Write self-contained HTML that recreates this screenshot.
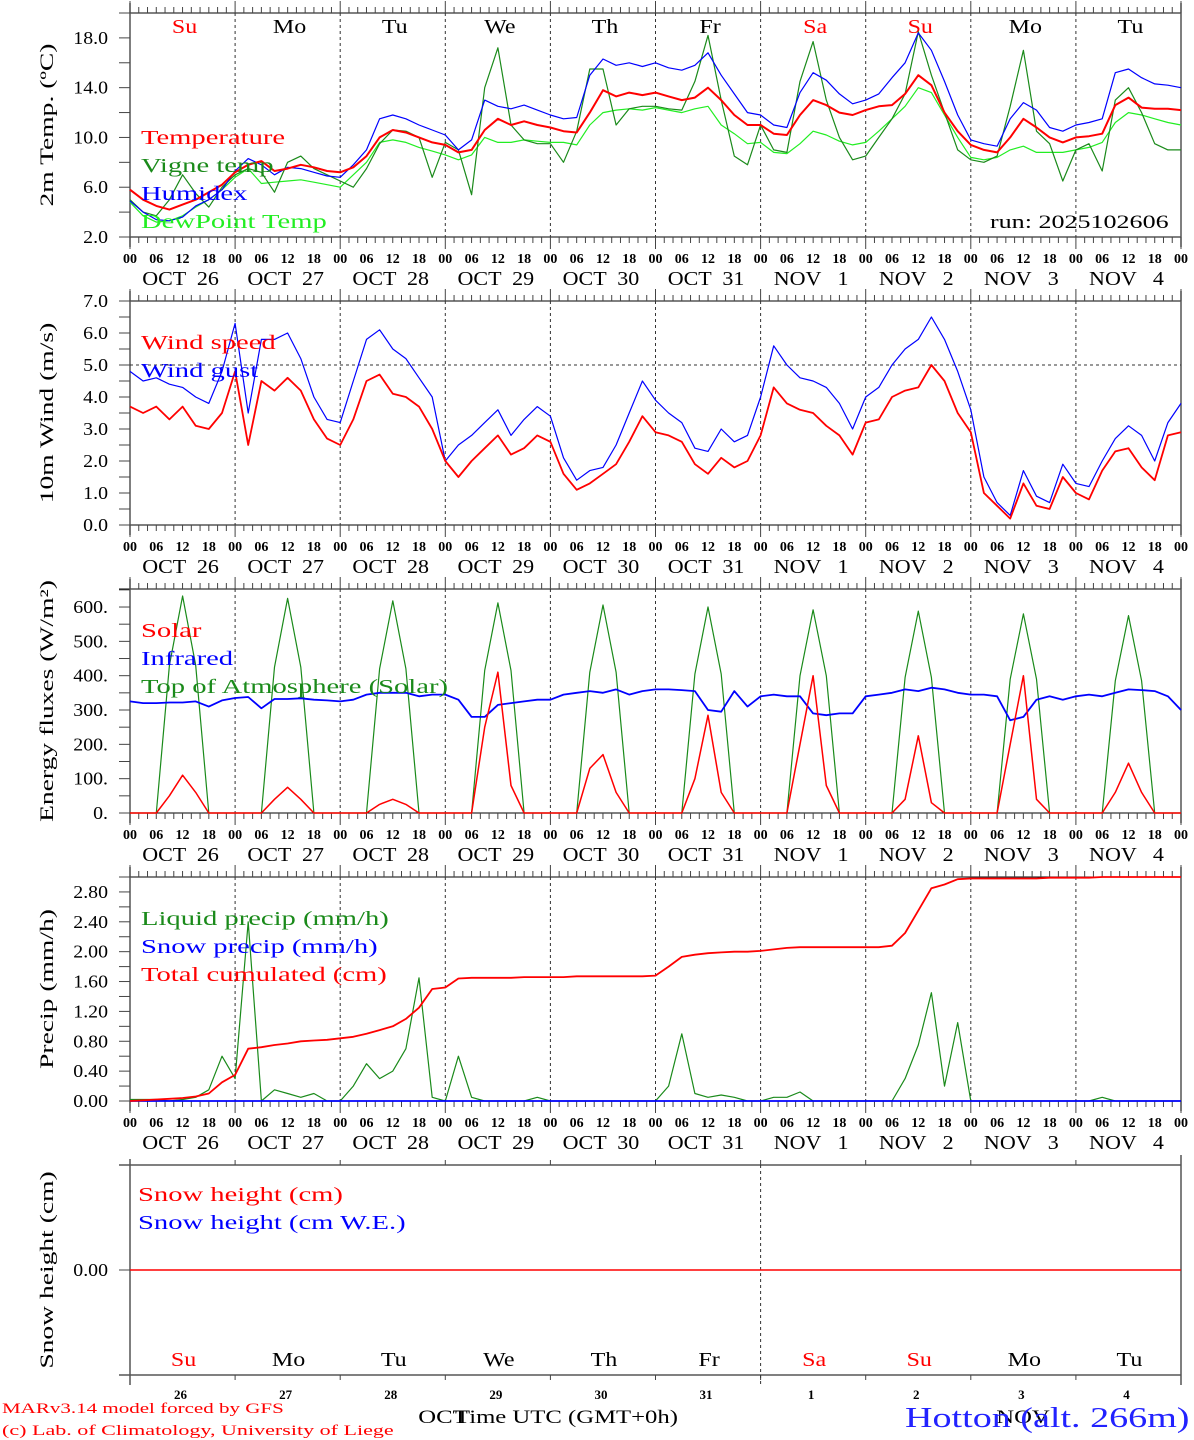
<!DOCTYPE html>
<html><head><meta charset="utf-8">
<style>
html,body{margin:0;padding:0;background:#fff;}
svg{display:block;font-family:"Liberation Serif","DejaVu Serif",serif;}
</style></head>
<body>
<svg id="c" width="1194" height="1440" viewBox="0 0 1194 1440" xmlns="http://www.w3.org/2000/svg"></svg>
<script>
// ---- data (3-hourly, 81 points from OCT 26 00h to NOV 5 00h) ----
const dayLabels = ["Su","Mo","Tu","We","Th","Fr","Sa","Su","Mo","Tu"];
const dateLabels = ["OCT  26","OCT  27","OCT  28","OCT  29","OCT  30","OCT  31","NOV   1","NOV   2","NOV   3","NOV   4"];
const dayNums = ["26","27","28","29","30","31","1","2","3","4"];
const hourTicks = ["00","06","12","18"];
const tempTicks = [2,6,10,14,18];
const windTicks = [0,1,2,3,4,5,6,7];
const fluxTicks = [0,100,200,300,400,500,600];
const precipTicks = [0,0.4,0.8,1.2,1.6,2.0,2.4,2.8];

const temperature = [5.8,5.0,4.5,4.2,4.6,5.0,5.6,6.2, 7.2,7.8,8.1,7.3,7.5,7.8,7.6,7.3, 7.2,7.6,8.5,10.0,10.6,10.4,10.0,9.6, 9.4,8.8,9.0,10.6,11.5,11.0,11.3,11.0, 10.8,10.5,10.4,12.0,13.8,13.3,13.6,13.4, 13.6,13.3,13.0,13.2,14.0,13.0,11.8,11.0, 11.0,10.3,10.2,11.8,13.0,12.6,12.0,11.8, 12.2,12.5,12.6,13.5,15.0,14.2,12.0,10.5, 9.4,9.0,8.8,10.0,11.5,10.8,10.0,9.6, 10.0,10.1,10.3,12.6,13.2,12.4,12.3,12.3,12.2];
const vigneTemp = [5.0,4.0,3.7,5.0,7.0,5.5,4.4,6.0, 7.0,7.5,7.2,5.6,8.0,8.5,7.5,7.0, 6.5,6.0,7.5,9.5,10.6,10.5,10.0,6.8, 9.6,9.0,5.4,14.0,17.2,11.0,9.8,9.5, 9.5,8.0,10.5,15.5,15.5,11.0,12.3,12.5, 12.5,12.3,12.2,14.5,18.2,13.0,8.5,7.8, 11.0,9.0,8.8,14.5,17.7,13.0,10.0,8.2, 8.5,10.0,11.5,13.5,18.5,15.0,12.0,9.0, 8.2,8.0,8.5,12.5,17.0,10.5,9.5,6.5, 9.0,9.5,7.3,13.0,14.0,12.0,9.5,9.0,9.0];
const humidex = [4.9,4.0,3.4,3.3,3.6,4.5,5.0,5.8, 7.3,8.3,7.8,7.0,7.6,7.5,7.2,6.9, 6.8,7.8,9.0,11.5,11.8,11.5,11.0,10.6, 10.2,9.0,9.8,13.0,12.5,12.3,12.6,12.2, 11.8,11.5,11.6,15.0,16.3,15.8,16.0,15.7, 16.0,15.6,15.4,15.8,16.8,15.0,13.5,12.0, 11.8,11.0,10.8,13.6,15.2,14.6,13.5,12.7, 13.0,13.5,14.8,16.0,18.4,17.0,14.5,11.8, 9.8,9.5,9.3,11.5,12.8,12.2,10.8,10.5, 11.0,11.2,11.5,15.2,15.5,14.8,14.3,14.2,14.0];
const dewPoint = [4.8,3.7,3.2,3.3,3.7,4.4,5.0,5.8, 6.8,7.5,6.3,6.4,6.5,6.6,6.4,6.2, 6.0,7.0,8.0,9.6,9.8,9.6,9.2,8.9, 8.6,8.2,8.6,10.0,9.6,9.6,9.8,9.7, 9.6,9.6,9.4,11.0,12.0,12.2,12.3,12.2, 12.4,12.2,12.0,12.3,12.5,11.0,10.3,9.5, 9.6,8.8,8.7,9.5,10.5,10.2,9.7,9.4, 9.6,10.5,11.5,12.5,14.0,13.6,11.8,10.0, 8.4,8.2,8.4,9.0,9.3,8.8,8.8,8.8, 9.0,9.2,9.6,11.2,12.0,11.8,11.5,11.2,11.0];

const windSpeed = [3.7,3.5,3.7,3.3,3.7,3.1,3.0,3.5, 4.8,2.5,4.5,4.2,4.6,4.2,3.3,2.7, 2.5,3.3,4.5,4.7,4.1,4.0,3.7,3.0, 2.0,1.5,2.0,2.4,2.8,2.2,2.4,2.8, 2.6,1.6,1.1,1.3,1.6,1.9,2.6,3.4, 2.9,2.8,2.6,1.9,1.6,2.1,1.8,2.0, 2.8,4.3,3.8,3.6,3.5,3.1,2.8,2.2, 3.2,3.3,4.0,4.2,4.3,5.0,4.5,3.5, 2.9,1.0,0.6,0.2,1.3,0.6,0.5,1.5, 1.0,0.8,1.7,2.3,2.4,1.8,1.4,2.8,2.9];
const windGust = [4.8,4.5,4.6,4.4,4.3,4.0,3.8,4.8, 6.3,3.5,5.8,5.8,6.0,5.2,4.0,3.3, 3.2,4.5,5.8,6.1,5.5,5.2,4.6,4.0, 2.0,2.5,2.8,3.2,3.6,2.8,3.3,3.7, 3.4,2.1,1.4,1.7,1.8,2.5,3.5,4.5, 3.9,3.5,3.2,2.4,2.3,3.0,2.6,2.8, 4.0,5.6,5.0,4.6,4.5,4.3,3.8,3.0, 4.0,4.3,5.0,5.5,5.8,6.5,5.8,4.8, 3.6,1.5,0.7,0.3,1.7,0.9,0.7,1.9, 1.3,1.2,2.0,2.7,3.1,2.8,2.0,3.2,3.8];

const solar = [0,0,0,50,110,60,0,0, 0,0,0,40,75,40,0,0, 0,0,0,25,40,25,0,0, 0,0,0,250,410,80,0,0, 0,0,0,130,170,60,0,0, 0,0,0,100,285,60,0,0, 0,0,0,200,400,80,0,0, 0,0,0,40,225,30,0,0, 0,0,0,200,400,40,0,0, 0,0,0,60,145,60,0,0,0];
const infrared = [325,320,320,322,322,325,310,328, 335,338,305,332,332,334,330,328, 325,330,345,350,350,350,340,345, 345,330,280,280,315,320,325,330, 330,345,350,355,350,360,345,355, 360,360,358,355,300,295,355,310, 340,345,340,340,290,285,290,290, 340,345,350,360,355,365,360,350, 345,345,340,270,280,330,340,330, 340,345,340,350,360,358,355,340,300];
const toaSolar = [0,0,0,430,632,430,0,0, 0,0,0,425,625,425,0,0, 0,0,0,420,618,420,0,0, 0,0,0,415,612,415,0,0, 0,0,0,410,606,410,0,0, 0,0,0,405,600,405,0,0, 0,0,0,400,592,400,0,0, 0,0,0,395,588,395,0,0, 0,0,0,390,580,390,0,0, 0,0,0,385,575,385,0,0,0];

const liquidPrecip = [0.02,0.02,0.02,0.0,0.02,0.05,0.15,0.6, 0.3,2.4,0.0,0.15,0.1,0.05,0.1,0.0, 0.0,0.2,0.5,0.3,0.4,0.7,1.65,0.05, 0.0,0.6,0.05,0.0,0.0,0.0,0.0,0.05, 0.0,0.0,0.0,0.0,0.0,0.0,0.0,0.0, 0.0,0.2,0.9,0.1,0.05,0.08,0.05,0.0, 0.0,0.05,0.05,0.12,0.0,0.0,0.0,0.0, 0.0,0.0,0.0,0.3,0.75,1.45,0.2,1.05, 0.0,0.0,0.0,0.0,0.0,0.0,0.0,0.0, 0.0,0.0,0.05,0.0,0.0,0.0,0.0,0.0,0.0];
const snowPrecip = new Array(81).fill(0);
const cumPrecip = [0,0.01,0.02,0.03,0.04,0.06,0.1,0.25, 0.35,0.7,0.72,0.75,0.77,0.8,0.81,0.82, 0.84,0.86,0.9,0.95,1.0,1.1,1.25,1.5, 1.52,1.64,1.65,1.65,1.65,1.65,1.66,1.66, 1.66,1.66,1.67,1.67,1.67,1.67,1.67,1.67, 1.68,1.8,1.93,1.96,1.98,1.99,2.0,2.0, 2.01,2.03,2.05,2.06,2.06,2.06,2.06,2.06, 2.06,2.06,2.08,2.25,2.55,2.85,2.9,2.97, 2.98,2.98,2.98,2.98,2.98,2.98,2.99,2.99, 2.99,2.99,3.0,3.0,3.0,3.0,3.0,3.0,3.0];
const snowHeight = new Array(81).fill(0);

// ---- drawing ----
const svg = document.getElementById('c');
const NS = "http://www.w3.org/2000/svg";
const X0 = 130, X1 = 1181;
function xs(i){ return X0 + (i*3)*(X1-X0)/240; }
function xh(h){ return X0 + h*(X1-X0)/240; }
function mk(tag, attrs, parent){ const e=document.createElementNS(NS,tag); for(const k in attrs) e.setAttribute(k,attrs[k]); (parent||svg).appendChild(e); return e; }
function txt(s, x, y, size, fill, anchor, parent){ const t=mk('text',{x:x,y:y,'font-size':size,fill:fill,'text-anchor':anchor||'start'},parent); t.textContent=s; return t; }
const widen = [];
function wide(t, f){ widen.push([t,f]); return t; }

const panels = [
 {name:'temperature-panel', top:13, bot:237, min:2, max:20, ticks:tempTicks, fmt:v=>v.toFixed(1), minor:2, title:'2m Temp. (ºC)'},
 {name:'wind-panel', top:301, bot:525, min:0, max:7, ticks:windTicks, fmt:v=>v.toFixed(1), minor:0.5, title:'10m Wind (m/s)'},
 {name:'energy-panel', top:589, bot:813, min:0, max:652.5, ticks:fluxTicks, fmt:v=>v.toFixed(0)+'.', minor:50, title:'Energy fluxes (W/m²)'},
 {name:'precip-panel', top:877, bot:1101, min:0, max:3.0, ticks:precipTicks, fmt:v=>v.toFixed(2), minor:0.2, title:'Precip (mm/h)'}
];
function yOf(p,v){ return p.bot - (v-p.min)*(p.bot-p.top)/(p.max-p.min); }

panels.forEach((p,pi)=>{
  const g = mk('g',{});
  
  
  mk('line',{x1:119,y1:p.top,x2:X1,y2:p.top,stroke:'#000','stroke-width':1},g);
  mk('line',{x1:119,y1:p.bot,x2:X1,y2:p.bot,stroke:'#000','stroke-width':1},g);
  mk('line',{x1:X0,y1:p.top-10,x2:X0,y2:p.bot+10,stroke:'#555','stroke-width':1.5},g);
  mk('line',{x1:X1,y1:p.top-10,x2:X1,y2:p.bot+10,stroke:'#555','stroke-width':1.5},g);
  for(let h=0;h<=240;h+=2){
    const x=xh(h), day=(h%24===0);
    mk('line',{x1:x,y1:p.top-(day?12:6),x2:x,y2:p.top,stroke:'#444','stroke-width':1},g);
    mk('line',{x1:x,y1:p.bot,x2:x,y2:p.bot+(day?12:6),stroke:'#444','stroke-width':1},g);
  }
  for(let d=1;d<10;d++){ const x=xh(d*24); mk('line',{x1:x,y1:p.top,x2:x,y2:p.bot,stroke:'#333','stroke-width':1,'stroke-dasharray':'3,3'},g); }
  for(let v=p.min; v<=p.max+1e-6; v+=p.minor){ const y=yOf(p,v); mk('line',{x1:119,y1:y,x2:X0,y2:y,stroke:'#444','stroke-width':1},g); }
  p.ticks.forEach(v=>{ const y=yOf(p,v); if(y>=p.top-1) { const t=txt(p.fmt(v),108,y+6,18,'#000','end',g);   wide(t,1.1); } });
  for(let d=0; d<=10; d++){ hourTicks.forEach((s,k)=>{ if(d===10&&k>0) return; const t=txt(s, xh(d*24+k*6), p.bot+26, 14, '#000','middle',g);   t.setAttribute('font-weight','bold'); }); }
  dateLabels.forEach((s,d)=>{ const t=txt(s, xh(d*24+12)-2, p.bot+48, 20, '#000','middle',g);   t.setAttribute('xml:space','preserve'); t.style.whiteSpace='pre'; wide(t,1.1); });
  const cy=(p.top+p.bot)/2;
  const tt=txt(p.title, 0, 0, 19, '#000','middle',g);
  tt.setAttribute('transform','translate(53,'+cy+') rotate(-90)');
   
  wide(tt,1.45);
});

function series(p, arr, color, width, name){
  const pts = arr.map((v,i)=>xs(i).toFixed(1)+','+yOf(p,v).toFixed(1)).join(' ');
  const l = mk('polyline',{points:pts,fill:'none',stroke:color,'stroke-width':width,'stroke-linejoin':'round'});
  
  
}
function legend(items, x, y0, dy){
  items.forEach((it,k)=>{ const t=txt(it[0], x, y0+k*dy, 20, it[1]);   wide(t,1.43); });
}

const P=panels;
dayLabels.forEach((s,d)=>{ const red=(d===0||d===6||d===7); const t=txt(s, xh(d*24+12)+2, 33, 20, red?'#f00':'#000','middle');   wide(t,1.2); });
series(P[0], dewPoint, '#22ee22', 1.2, 'dewpoint-line');
series(P[0], vigneTemp, '#1a8a1a', 1.2, 'vigne-temp-line');
series(P[0], humidex, '#0000ff', 1.2, 'humidex-line');
series(P[0], temperature, '#ff0000', 2, 'temperature-line');
legend([['Temperature','#f00'],['Vigne temp','#1a8a1a'],['Humidex','#00f'],['DewPoint Temp','#22ee22']], 141, 144, 28);
{ const t=txt('run: 2025102606', 990, 228, 19, '#000','start');   wide(t,1.37); }

mk('line',{x1:X0,y1:yOf(P[1],5),x2:X1,y2:yOf(P[1],5),stroke:'#333','stroke-dasharray':'3,3','stroke-width':1});
series(P[1], windGust, '#0000ff', 1.2, 'wind-gust-line');
series(P[1], windSpeed, '#ff0000', 1.8, 'wind-speed-line');
legend([['Wind speed','#f00'],['Wind gust','#00f']], 141, 349, 28);

series(P[2], toaSolar, '#1a8a1a', 1.2, 'toa-solar-line');
series(P[2], infrared, '#0000ff', 1.8, 'infrared-line');
series(P[2], solar, '#ff0000', 1.5, 'solar-line');
legend([['Solar','#f00'],['Infrared','#00f'],['Top of Atmosphere (Solar)','#1a8a1a']], 141, 637, 28);

series(P[3], liquidPrecip, '#1a8a1a', 1.2, 'liquid-precip-line');
series(P[3], snowPrecip, '#0000ff', 1.8, 'snow-precip-line');
series(P[3], cumPrecip, '#ff0000', 1.8, 'cumulated-precip-line');
legend([['Liquid precip (mm/h)','#1a8a1a'],['Snow precip (mm/h)','#00f'],['Total cumulated (cm)','#f00']], 141, 925, 28);

// panel 5 (snow)
const S={top:1165,bot:1375};
const g5=mk('g',{});  
mk('line',{x1:119,y1:S.top,x2:X1,y2:S.top,stroke:'#000'},g5);
mk('line',{x1:119,y1:S.bot,x2:X1,y2:S.bot,stroke:'#000'},g5);
mk('line',{x1:X0,y1:S.top-6,x2:X0,y2:S.bot+10,stroke:'#555','stroke-width':1.5},g5);
mk('line',{x1:X1,y1:S.top-10,x2:X1,y2:S.bot+10,stroke:'#555','stroke-width':1.5},g5);
for(let d=1;d<10;d++){ const x=xh(d*24); mk('line',{x1:x,y1:S.top-5,x2:x,y2:S.top,stroke:'#444'},g5); mk('line',{x1:x,y1:S.bot,x2:x,y2:S.bot+5,stroke:'#444'},g5); }
mk('line',{x1:xh(144),y1:S.top,x2:xh(144),y2:S.bot+10,stroke:'#333','stroke-dasharray':'3,3'},g5);
mk('line',{x1:119,y1:1270,x2:X0,y2:1270,stroke:'#444'},g5);
{ const t=txt('0.00',108,1276,18,'#000','end',g5);   wide(t,1.1); }
{ const t=txt('Snow height (cm)',0,0,19,'#000','middle',g5); t.setAttribute('transform','translate(53,1270) rotate(-90)');   wide(t,1.45); }
{ const pts=snowHeight.map((v,i)=>xs(i).toFixed(1)+','+(1270-v*100).toFixed(1)).join(' ');
  const l=mk('polyline',{points:pts,fill:'none',stroke:'#f00','stroke-width':1.5});   }
legend([['Snow height (cm)','#f00'],['Snow height (cm W.E.)','#00f']], 138, 1201, 28);
dayLabels.forEach((s,d)=>{ const red=(d===0||d===6||d===7); const t=txt(s, xh(d*24+12)+1, 1366, 20, red?'#f00':'#000','middle');   wide(t,1.2); });
dayNums.forEach((s,d)=>{ const t=txt(s, xh(d*24+12)-2, 1399, 13, '#000','middle');   t.setAttribute('font-weight','bold'); });

// footer
{ let t=txt('OCT',443,1423,19,'#000','middle');   wide(t,1.3);
  t=txt('Time UTC (GMT+0h)',455,1423,19,'#000','start');   wide(t,1.3);
  t=txt('NOV',1023,1423,19,'#000','middle');   wide(t,1.3);
  t=txt('Hotton (alt. 266m)',905,1427,28,'#2222ff','start');   wide(t,1.36);
  t=txt('MARv3.14 model forced by GFS',2,1413,15,'#f00');   wide(t,1.4);
  t=txt('(c) Lab. of Climatology, University of Liege',2,1435,15,'#f00');   wide(t,1.47); }

widen.forEach(([t,f])=>{ const w=t.getComputedTextLength(); if(w>0){ t.setAttribute('textLength',(w*f).toFixed(1)); t.setAttribute('lengthAdjust','spacingAndGlyphs'); } });
</script>
</body></html>
